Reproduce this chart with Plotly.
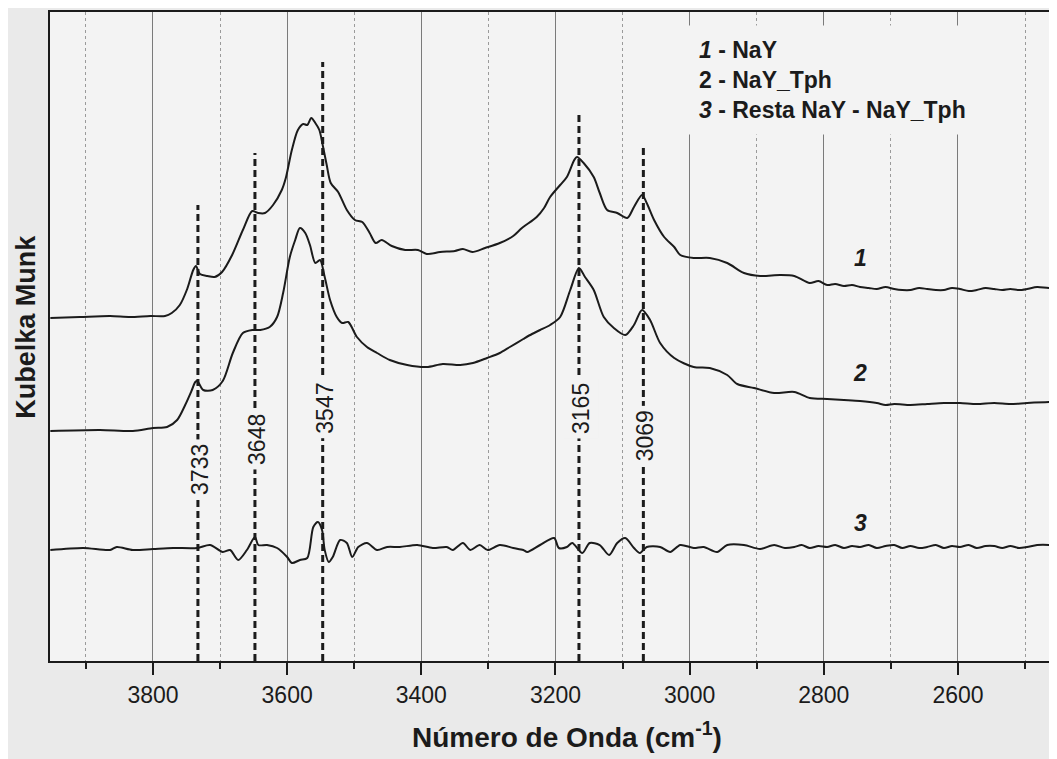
import plotly.graph_objects as go

# ---------------- data ----------------
# Curve 1 : NaY
wn_nay = [3953, 3909, 3864, 3834, 3804, 3782, 3772, 3760, 3749, 3740, 3736, 3730, 3719, 3708,
          3697, 3682, 3666, 3652, 3643, 3633, 3621, 3608, 3602, 3593, 3584, 3576, 3570, 3564,
          3558, 3552, 3547, 3541, 3535, 3524, 3511, 3499, 3488, 3477, 3468, 3459, 3444, 3424,
          3405, 3392, 3372, 3350, 3338, 3324, 3305, 3283, 3263, 3250, 3228, 3217, 3208, 3193,
          3183, 3172, 3168, 3158, 3143, 3134, 3123, 3108, 3093, 3083, 3071, 3064, 3053, 3038,
          3023, 3014, 2994, 2970, 2944, 2919, 2895, 2865, 2844, 2821, 2808, 2795, 2783, 2770,
          2758, 2746, 2733, 2721, 2708, 2695, 2683, 2671, 2658, 2646, 2633, 2621, 2609, 2597,
          2584, 2572, 2559, 2546, 2534, 2522, 2509, 2497, 2482, 2463, 2452]
km_nay = [3.43, 3.44, 3.45, 3.44, 3.45, 3.45, 3.48, 3.56, 3.72, 3.91, 3.95, 3.87, 3.85, 3.84,
          3.89, 4.06, 4.31, 4.50, 4.48, 4.48, 4.56, 4.71, 4.83, 5.11, 5.31, 5.37, 5.36, 5.43,
          5.38, 5.31, 5.16, 4.96, 4.78, 4.69, 4.51, 4.41, 4.39, 4.28, 4.18, 4.21, 4.15, 4.11,
          4.11, 4.07, 4.09, 4.10, 4.12, 4.09, 4.13, 4.18, 4.25, 4.33, 4.44, 4.53, 4.64, 4.76,
          4.84, 5.01, 5.04, 4.98, 4.84, 4.68, 4.51, 4.48, 4.43, 4.54, 4.66, 4.58, 4.41, 4.24,
          4.14, 4.06, 4.03, 4.03, 3.98, 3.88, 3.85, 3.86, 3.85, 3.78, 3.80, 3.76, 3.77, 3.75,
          3.76, 3.74, 3.73, 3.72, 3.74, 3.72, 3.71, 3.71, 3.73, 3.72, 3.71, 3.71, 3.73, 3.72,
          3.70, 3.71, 3.73, 3.72, 3.71, 3.72, 3.71, 3.72, 3.74, 3.73, 3.75]

# Curve 2 : NaY_Tph
wn_tph = [3953, 3879, 3830, 3800, 3779, 3764, 3752, 3742, 3737, 3734, 3725, 3711, 3696, 3681,
          3666, 3652, 3640, 3626, 3615, 3606, 3596, 3588, 3581, 3573, 3566, 3558, 3551, 3544,
          3536, 3526, 3518, 3509, 3496, 3481, 3466, 3447, 3421, 3392, 3368, 3342, 3323, 3302,
          3283, 3268, 3248, 3235, 3223, 3208, 3193, 3178, 3165, 3156, 3143, 3128, 3113, 3096,
          3083, 3071, 3059, 3044, 3023, 2994, 2970, 2944, 2929, 2904, 2874, 2844, 2821, 2795,
          2770, 2746, 2721, 2708, 2695, 2671, 2646, 2621, 2597, 2572, 2546, 2522, 2497, 2463, 2452]
km_tph = [2.30, 2.31, 2.30, 2.33, 2.34, 2.41, 2.56, 2.71, 2.79, 2.80, 2.71, 2.71, 2.80, 3.08,
          3.28, 3.31, 3.31, 3.34, 3.44, 3.68, 4.04, 4.21, 4.33, 4.28, 4.16, 3.98, 4.01, 3.84,
          3.61, 3.44, 3.38, 3.39, 3.24, 3.14, 3.08, 3.01, 2.96, 2.94, 2.97, 2.96, 2.98, 3.03,
          3.08, 3.14, 3.22, 3.27, 3.31, 3.36, 3.44, 3.71, 3.93, 3.84, 3.71, 3.44, 3.33, 3.26,
          3.36, 3.51, 3.41, 3.18, 3.03, 2.94, 2.93, 2.86, 2.77, 2.73, 2.68, 2.69, 2.63, 2.62,
          2.61, 2.60, 2.58, 2.56, 2.57, 2.56, 2.57, 2.58, 2.58, 2.57, 2.58, 2.57, 2.58, 2.59, 2.59]

# Curve 3 : Resta NaY - NaY_Tph
wn_dif = [3953, 3904, 3864, 3854, 3830, 3800, 3770, 3734, 3715, 3696, 3685, 3673, 3660, 3648,
          3643, 3630, 3615, 3600, 3593, 3581, 3570, 3561, 3554, 3548, 3544, 3538, 3532, 3521,
          3511, 3503, 3494, 3481, 3466, 3451, 3432, 3406, 3383, 3362, 3353, 3338, 3327, 3313,
          3301, 3283, 3263, 3248, 3242, 3223, 3202, 3195, 3183, 3175, 3160, 3149, 3134, 3120,
          3108, 3096, 3083, 3074, 3064, 3044, 3029, 3014, 2994, 2979, 2959, 2944, 2919, 2895,
          2874, 2858, 2844, 2833, 2821, 2808, 2795, 2783, 2770, 2758, 2746, 2733, 2721, 2708,
          2695, 2683, 2671, 2658, 2646, 2633, 2621, 2609, 2597, 2584, 2572, 2559, 2546, 2534,
          2522, 2509, 2497, 2482, 2463, 2452]
km_dif = [1.11, 1.13, 1.11, 1.14, 1.11, 1.12, 1.13, 1.13, 1.16, 1.09, 1.11, 1.01, 1.11, 1.24,
          1.16, 1.16, 1.13, 1.04, 0.98, 1.01, 1.03, 1.34, 1.39, 1.31, 1.11, 0.99, 1.04, 1.21,
          1.18, 1.04, 1.14, 1.18, 1.11, 1.14, 1.14, 1.16, 1.13, 1.14, 1.11, 1.18, 1.11, 1.16,
          1.11, 1.16, 1.13, 1.11, 1.09, 1.16, 1.23, 1.13, 1.14, 1.18, 1.08, 1.18, 1.16, 1.06,
          1.18, 1.23, 1.13, 1.08, 1.14, 1.14, 1.09, 1.16, 1.13, 1.14, 1.09, 1.16, 1.16, 1.12,
          1.16, 1.13, 1.14, 1.16, 1.13, 1.15, 1.14, 1.16, 1.13, 1.15, 1.14, 1.16, 1.13, 1.15,
          1.16, 1.13, 1.15, 1.13, 1.14, 1.16, 1.13, 1.15, 1.14, 1.16, 1.13, 1.15, 1.15, 1.13,
          1.15, 1.13, 1.14, 1.16, 1.16, 1.15]

# marked bands (dashed lines): position, top of the line, label height
peak_wn = [3733, 3648, 3547, 3165, 3069]
peak_top = [4.56, 5.08, 5.99, 5.46, 5.14]
peak_label_y = [1.92, 2.22, 2.53, 2.53, 2.25]

curve_ids = ["1", "2", "3"]
curve_label_wn = 2746
curve_label_km = [4.03, 2.88, 1.38]

legend_lines = ["<i>1</i> - NaY", "2 - NaY_Tph", "<i>3</i> - Resta NaY - NaY_Tph"]

x_range = [3953.5, 2452.4]
y_range = [0, 6.49]

# ---------------- figure ----------------
FONT = "Arial, 'Liberation Sans', sans-serif"
INK = "#1b1b1b"
PLOT_BG = "#f3f3f3"
PAPER_BG = "#eaeaea"

fig = go.Figure()

for wn, km in [(wn_nay, km_nay), (wn_tph, km_tph), (wn_dif, km_dif)]:
    fig.add_trace(go.Scatter(x=wn, y=km, mode="lines",
                             line=dict(color=INK, width=2, shape="spline", smoothing=0.8),
                             showlegend=False, hoverinfo="skip"))

for p, top in zip(peak_wn, peak_top):
    fig.add_trace(go.Scatter(x=[p, p], y=[0, top], mode="lines",
                             line=dict(color=INK, width=3, dash="7px,4px"),
                             showlegend=False, hoverinfo="skip"))

annotations = []
for p, ly in zip(peak_wn, peak_label_y):
    annotations.append(dict(x=p, y=ly, xref="x", yref="y", text=str(p), textangle=-90,
                            showarrow=False, xanchor="center", yanchor="middle",
                            xshift=2,
                            font=dict(family=FONT, size=23, color=INK),
                            bgcolor=PLOT_BG, borderpad=4))

for cid, ky in zip(curve_ids, curve_label_km):
    annotations.append(dict(x=curve_label_wn, y=ky, xref="x", yref="y",
                            text="<b><i>%s</i></b>" % cid, showarrow=False,
                            xanchor="center", yanchor="middle",
                            font=dict(family=FONT, size=23, color=INK)))

annotations.append(dict(x=3004, y=6.36, xref="x", yref="y",
                        text="<b>" + "<br>".join(legend_lines) + "</b>",
                        align="left", showarrow=False, xanchor="left", yanchor="top",
                        font=dict(family=FONT, size=23, color=INK),
                        bgcolor=PLOT_BG, borderpad=11))

annotations.append(dict(x=0.513, y=0, xref="paper", yref="paper",
                        text="<b>Número de Onda (cm<sup>-1</sup>)</b>", showarrow=False,
                        xanchor="center", yanchor="middle", yshift=-74,
                        font=dict(family=FONT, size=28, color=INK)))
annotations.append(dict(x=0, y=0.515, xref="paper", yref="paper",
                        text="<b>Kubelka Munk</b>", textangle=-90, showarrow=False,
                        xanchor="center", yanchor="middle", xshift=-24,
                        font=dict(family=FONT, size=27, color=INK)))

# the page body has an 8px margin, so the figure is sized/offset to compensate
fig.update_layout(
    width=1049, height=751,
    margin=dict(l=42, r=0, t=4, b=98),
    paper_bgcolor=PAPER_BG, plot_bgcolor=PLOT_BG,
    font=dict(family=FONT, color=INK),
    annotations=annotations,
    showlegend=False,
)

fig.update_xaxes(
    range=x_range, tick0=0, dtick=200,
    ticks="outside", ticklen=12, tickwidth=2, tickcolor=INK,
    tickfont=dict(family=FONT, size=23, color=INK),
    showline=True, linewidth=2, linecolor=INK, mirror=True,
    showgrid=True, gridcolor="#7a7a7a", gridwidth=1,
    zeroline=False,
    minor=dict(dtick=100, tick0=0, ticks="outside", ticklen=6, tickwidth=1.5,
               tickcolor=INK, showgrid=True, gridcolor="#9a9a9a", gridwidth=1,
               griddash="dot"),
)
fig.update_yaxes(
    range=y_range, showticklabels=False, ticks="", showgrid=False,
    showline=True, linewidth=2, linecolor=INK, zeroline=False,
)

fig.write_html("out.html")
